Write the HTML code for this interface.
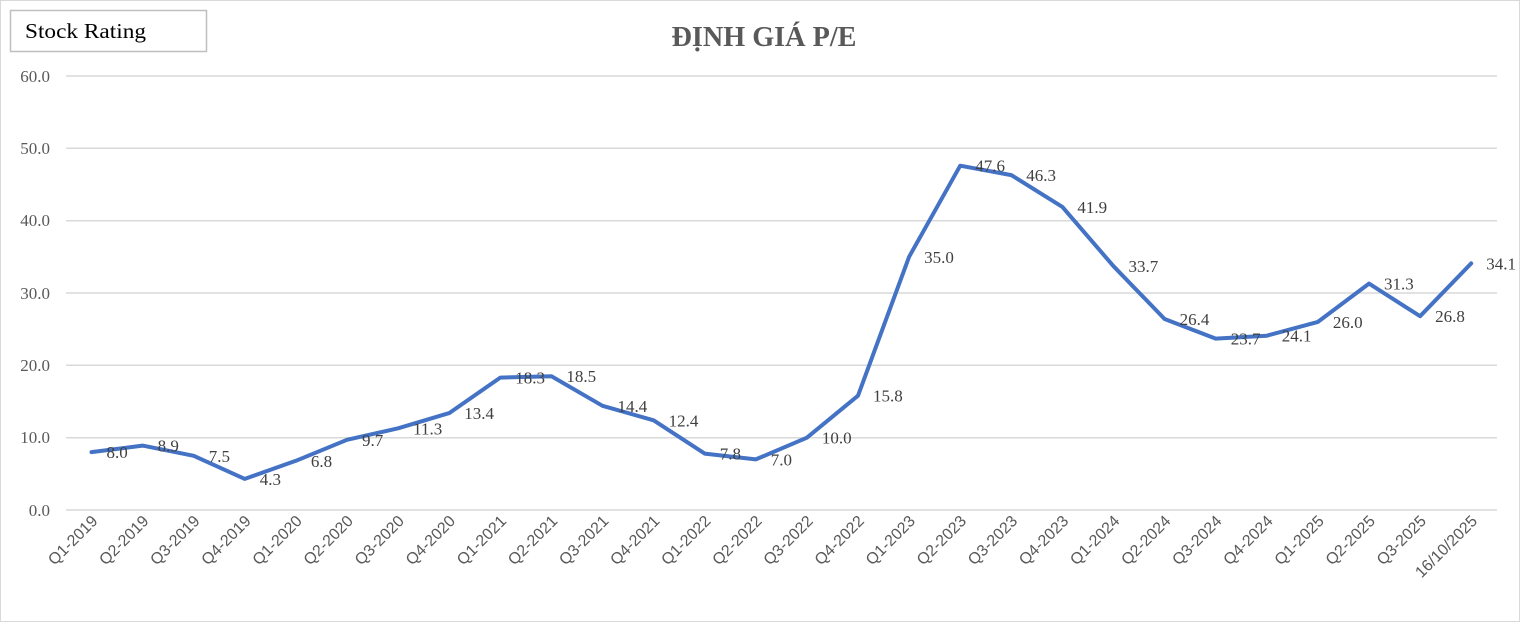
<!DOCTYPE html>
<html><head><meta charset="utf-8"><style>
html,body{margin:0;padding:0;background:#fff;}
svg{display:block;}
</style></head><body>
<svg width="1521" height="623" xmlns="http://www.w3.org/2000/svg">
<rect x="0.5" y="0.5" width="1519" height="621" fill="#fff" stroke="#d9d9d9"/>
<rect x="10.5" y="10.5" width="196" height="41" fill="#fff" stroke="#bfbfbf" stroke-width="1.5"/>
<text x="25" y="38" font-family="Liberation Serif, serif" font-size="21" fill="#000" textLength="121" lengthAdjust="spacingAndGlyphs">Stock Rating</text>
<text x="764" y="46" text-anchor="middle" font-family="Liberation Serif, serif" font-weight="bold" font-size="28" fill="#595959" textLength="185" lengthAdjust="spacingAndGlyphs">ĐỊNH GIÁ P/E</text>
<g stroke="#d9d9d9" stroke-width="1.5">
<line x1="66" x2="1497" y1="76" y2="76"/><line x1="66" x2="1497" y1="148.3" y2="148.3"/><line x1="66" x2="1497" y1="220.7" y2="220.7"/><line x1="66" x2="1497" y1="293" y2="293"/><line x1="66" x2="1497" y1="365.3" y2="365.3"/><line x1="66" x2="1497" y1="437.7" y2="437.7"/><line x1="66" x2="1497" y1="510" y2="510"/>
</g>
<g font-family="Liberation Serif, serif" font-size="17" fill="#595959" text-anchor="end">
<text x="50" y="82">60.0</text><text x="50" y="154">50.0</text><text x="50" y="226">40.0</text><text x="50" y="299">30.0</text><text x="50" y="371">20.0</text><text x="50" y="443">10.0</text><text x="50" y="516">0.0</text>
</g>
<g id="xl" font-family="Liberation Sans, sans-serif" font-size="16" fill="#595959" text-anchor="end"></g>
<polyline id="ln" fill="none" stroke="#4472C4" stroke-width="4" stroke-linejoin="round" stroke-linecap="round" points=""/>
<g id="dl" font-family="Liberation Serif, serif" font-size="17" fill="#404040"></g>
</svg>
<script>
var labels=["Q1-2019","Q2-2019","Q3-2019","Q4-2019","Q1-2020","Q2-2020","Q3-2020","Q4-2020","Q1-2021","Q2-2021","Q3-2021","Q4-2021","Q1-2022","Q2-2022","Q3-2022","Q4-2022","Q1-2023","Q2-2023","Q3-2023","Q4-2023","Q1-2024","Q2-2024","Q3-2024","Q4-2024","Q1-2025","Q2-2025","Q3-2025","16/10/2025"];
var v=[8.0,8.9,7.5,4.3,6.8,9.7,11.3,13.4,18.3,18.5,14.4,12.4,7.8,7.0,10.0,15.8,35.0,47.6,46.3,41.9,33.7,26.4,23.7,24.1,26.0,31.3,26.8,34.1];
var ns="http://www.w3.org/2000/svg",pts=[],xl=document.getElementById("xl"),dl=document.getElementById("dl");
for(var i=0;i<v.length;i++){
 var x=91.5+51.1*i,y=510-v[i]*7.233;
 pts.push(x.toFixed(1)+","+y.toFixed(1));
 var t=document.createElementNS(ns,"text");
 t.setAttribute("transform","translate("+(x+7)+",522) rotate(-45)");
 t.textContent=labels[i];xl.appendChild(t);
 var d=document.createElementNS(ns,"text");
 d.setAttribute("x",x+15);d.setAttribute("y",y+6);
 d.textContent=v[i].toFixed(1);dl.appendChild(d);
}
document.getElementById("ln").setAttribute("points",pts.join(" "));
</script>
</body></html>
